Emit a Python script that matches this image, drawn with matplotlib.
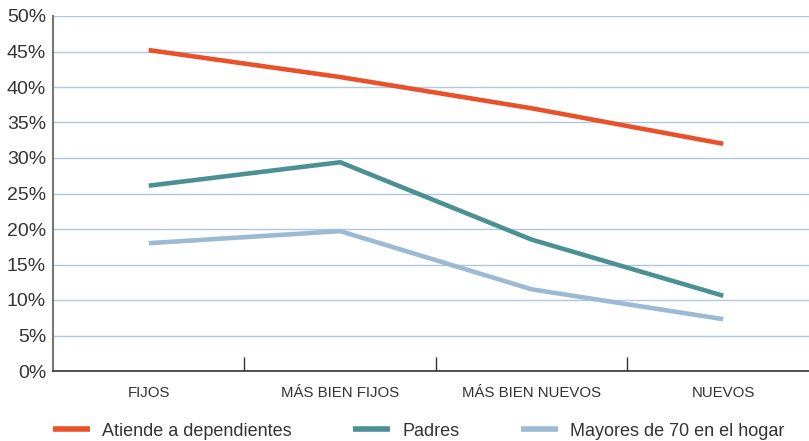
import matplotlib
matplotlib.use("Agg")
import matplotlib.pyplot as plt
from matplotlib.ticker import FixedLocator, PercentFormatter

plt.rcParams['font.family'] = ['Liberation Sans', 'DejaVu Sans']

# data (percent)
categories = ["FIJOS", "MÁS BIEN FIJOS", "MÁS BIEN NUEVOS", "NUEVOS"]
dependientes = [45.2, 41.4, 37.0, 32.0]
padres = [26.1, 29.4, 18.5, 10.6]
mayores70 = [18.0, 19.7, 11.5, 7.3]
series_names = ["Atiende a dependientes", "Padres", "Mayores de 70 en el hogar"]

colors = ["#E8512A", "#4B9095", "#9DBAD4"]

fig = plt.figure(figsize=(8.09, 4.41), dpi=100)
ax = fig.add_axes([53 / 809, 70 / 441, 756 / 809, 355 / 441])

x = list(range(len(categories)))
for vals, name, c in zip([dependientes, padres, mayores70], series_names, colors):
    ax.plot(x, vals, color=c, lw=3.3, label=name, solid_capstyle='butt', zorder=3)

ax.set_ylim(0, 50)
ax.set_xlim(-0.5, 3.448)
ax.set_yticks(range(0, 51, 5))
ax.yaxis.set_major_formatter(PercentFormatter(decimals=0))
ax.grid(axis='y', color='#AFC8DE', lw=1.0, zorder=0)
ax.set_axisbelow(True)

ax.set_xticks(x)
ax.set_xticklabels(categories)
ax.xaxis.set_minor_locator(FixedLocator([0.5, 1.5, 2.5]))
ax.tick_params(axis='x', which='major', length=0, pad=11, labelsize=10.8, colors='#333333')
ax.tick_params(axis='x', which='minor', direction='in', length=10, width=1, color='#333333')
ax.tick_params(axis='y', length=0, pad=5, labelsize=14, colors='#333333')

for s in ['top', 'right']:
    ax.spines[s].set_visible(False)
ax.spines['left'].set_color('#777777')
ax.spines['left'].set_linewidth(1.5)
ax.spines['bottom'].set_color('#333333')
ax.spines['bottom'].set_linewidth(1.2)

leg = fig.legend(loc='center left', bbox_to_anchor=(53 / 809, 10 / 441), ncol=3, frameon=False,
                 fontsize=13, handlelength=2.05, handletextpad=0.67, columnspacing=3.4,
                 borderpad=0, borderaxespad=0)
for h in leg.get_lines():
    h.set_linewidth(4)
for t in leg.get_texts():
    t.set_color('#333333')

fig.savefig("out.png", dpi=100)
